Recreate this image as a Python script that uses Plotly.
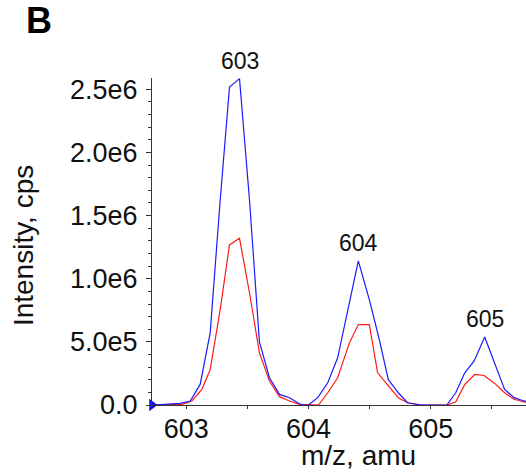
import plotly.graph_objects as go

# ---- data ----
blue_mz = [602.72, 602.951, 603.033, 603.114, 603.196, 603.278, 603.354, 603.436, 603.518, 603.599,
           603.681, 603.763, 603.845, 603.926, 603.96, 604.0, 604.076, 604.158, 604.239, 604.321,
           604.408, 604.498, 604.580, 604.653, 604.735, 604.811, 604.887, 604.92, 605.132, 605.205,
           605.279, 605.355, 605.442, 605.524, 605.605, 605.682, 605.763, 605.84]
blue_int = [0, 0.013e6, 0.032e6, 0.163e6, 0.571e6, 1.624e6, 2.518e6, 2.585e6, 1.62e6, 0.50e6,
            0.216e6, 0.084e6, 0.058e6, 0.010e6, 0, 0, 0.058e6, 0.176e6, 0.374e6, 0.755e6,
            1.142e6, 0.834e6, 0.518e6, 0.203e6, 0.097e6, 0.018e6, 0.005e6, 0, 0, 0.097e6,
            0.255e6, 0.347e6, 0.539e6, 0.334e6, 0.124e6, 0.058e6, 0.032e6, 0.02e6]

red_mz = [602.72, 602.965, 603.046, 603.128, 603.196, 603.278, 603.354, 603.436, 603.518, 603.599,
          603.681, 603.763, 603.845, 603.926, 604.082, 604.158, 604.239, 604.335, 604.408, 604.498,
          604.566, 604.653, 604.735, 604.811, 604.879, 604.92, 605.132, 605.205, 605.279, 605.361,
          605.437, 605.524, 605.605, 605.682, 605.763, 605.84]
red_int = [0, 0.005e6, 0.032e6, 0.124e6, 0.28e6, 0.755e6, 1.268e6, 1.321e6, 0.887e6, 0.413e6,
           0.19e6, 0.066e6, 0.032e6, 0.005e6, 0, 0.097e6, 0.216e6, 0.492e6, 0.637e6, 0.637e6,
           0.255e6, 0.15e6, 0.058e6, 0.018e6, 0.008e6, 0, 0, 0.024e6, 0.163e6, 0.242e6,
           0.234e6, 0.171e6, 0.097e6, 0.045e6, 0.024e6, 0.015e6]

peak_labels = ["603", "604", "605"]
peak_mz = [603.436, 604.408, 605.442]
peak_int = [2.585e6, 1.142e6, 0.539e6]

x_tickvals = [603, 604, 605]
x_ticktext = ["603", "604", "605"]
x_minorvals = [603.5, 604.5, 605.5]
y_tickvals = [0, 0.5e6, 1.0e6, 1.5e6, 2.0e6, 2.5e6]
y_ticktext = ["0.0", "5.0e5", "1.0e6", "1.5e6", "2.0e6", "2.5e6"]

X_RANGE = [602.72, 605.78]
Y_RANGE = [0, 2.59e6]

FONT = "Liberation Sans, Arial, sans-serif"

fig = go.Figure()
fig.add_trace(go.Scatter(x=red_mz, y=red_int, mode="lines",
                         line=dict(color="#ff1a1a", width=1.2), showlegend=False))
fig.add_trace(go.Scatter(x=blue_mz, y=blue_int, mode="lines",
                         line=dict(color="#1a1aff", width=1.2), showlegend=False))
# origin marker (blue triangle)
fig.add_trace(go.Scatter(x=[X_RANGE[0]], y=[Y_RANGE[0]], mode="markers",
                         marker=dict(symbol="triangle-right", size=11, color="#1010e0"),
                         cliponaxis=False, showlegend=False))

for lab, px, py in zip(peak_labels, peak_mz, peak_int):
    fig.add_annotation(x=px, y=py, text=lab, showarrow=False, xanchor="center",
                       yanchor="bottom", yshift=3,
                       font=dict(family=FONT, size=23, color="#111"))

fig.add_annotation(xref="paper", yref="paper", x=0.553, y=-0.155, text="m/z, amu",
                   showarrow=False, xanchor="center", yanchor="middle",
                   font=dict(family=FONT, size=28, color="#111"))
fig.add_annotation(xref="paper", yref="paper", x=-0.344, y=0.487, text="Intensity, cps",
                   showarrow=False, xanchor="center", yanchor="middle", textangle=-90,
                   font=dict(family=FONT, size=28, color="#111"))
fig.add_annotation(xref="paper", yref="paper", x=-0.343, y=1.175, text="<b>B</b>",
                   showarrow=False, xanchor="left", yanchor="middle",
                   font=dict(family=FONT, size=36, color="#000"))

fig.update_layout(
    width=526, height=475,
    margin=dict(l=152, r=0, t=78, b=70),
    paper_bgcolor="white", plot_bgcolor="white",
    showlegend=False,
)
fig.update_xaxes(range=X_RANGE, tickvals=x_tickvals, ticktext=x_ticktext,
                 showgrid=False, zeroline=False, showline=True, linecolor="#333", linewidth=1,
                 ticks="outside", ticklen=3, tickcolor="#333", ticklabelstandoff=-3,
                 minor=dict(tickvals=x_minorvals, ticks="outside", ticklen=3, tickcolor="#333"),
                 tickfont=dict(family=FONT, size=27, color="#111"))
fig.update_yaxes(range=Y_RANGE, tickvals=y_tickvals, ticktext=y_ticktext,
                 showgrid=False, zeroline=False, showline=True, linecolor="#333", linewidth=1,
                 ticks="outside", ticklen=5, tickcolor="#333", ticklabelstandoff=3,
                 minor=dict(dtick=1e5, ticks="outside", ticklen=3, tickcolor="#333"),
                 tickfont=dict(family=FONT, size=27, color="#111"))

fig.write_html("out.html", config={"displayModeBar": False},
               post_script="document.body.style.margin='0';document.body.style.overflow='hidden';")
